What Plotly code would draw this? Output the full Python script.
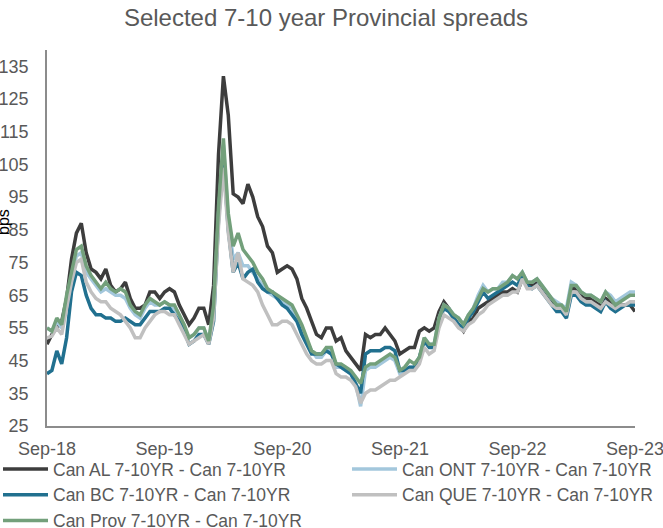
import pandas as pd
import plotly.graph_objects as go

# Semi-monthly observations, Sep 2018 - Sep 2023 (bps)
dates = pd.date_range("2018-09-20", "2023-09-20", periods=121)

can_al = [50, 53, 55, 57, 64, 76, 84, 87, 78, 73, 72, 70, 73, 68, 66, 67, 69, 64, 61, 61,
          62, 66, 66, 64, 66, 67, 66, 62, 59, 56, 58, 61, 61, 56, 68, 108, 132, 120, 96, 95,
          93, 99, 95, 89, 86, 80, 78, 72, 73, 74, 73, 70, 64, 61, 57, 53, 52, 55, 55, 51,
          52, 48, 46, 44, 42, 53, 52, 53, 53, 55, 53, 51, 47, 48, 49, 49, 54, 55, 54, 55,
          60, 63, 61, 58, 56, 54, 57, 58, 61, 62, 63, 64, 65, 66, 66, 67, 66, 70, 68, 68,
          69, 67, 65, 63, 61, 61, 60, 67, 67, 65, 64, 64, 63, 62, 64, 63, 61, 62, 62, 62, 60]

can_ont = [55, 54, 57, 55, 64, 71, 77, 78, 72, 70, 68, 66, 67, 66, 65, 65, 64, 61, 59, 58,
           61, 63, 62, 62, 63, 62, 61, 58, 55, 52, 53, 55, 55, 51, 60, 90, 111, 88, 76, 78,
           74, 74, 72, 70, 68, 66, 65, 64, 63, 62, 61, 58, 55, 51, 48, 46, 46, 48, 48, 43,
           43, 42, 41, 38, 31, 42, 43, 43, 44, 45, 46, 45, 41, 42, 43, 43, 46, 52, 50, 50,
           58, 62, 61, 59, 58, 56, 59, 61, 65, 68, 66, 67, 67, 69, 69, 71, 70, 72, 69, 69,
           70, 68, 66, 64, 63, 62, 61, 69, 68, 66, 65, 65, 64, 63, 66, 65, 63, 64, 65, 66, 66]

can_bc = [41, 42, 48, 44, 52, 66, 72, 71, 65, 61, 59, 59, 58, 58, 57, 57, 58, 57, 56, 56,
          58, 60, 60, 60, 61, 61, 59, 57, 54, 50, 51, 53, 53, 50, 57, 88, 107, 85, 72, 75,
          70, 72, 73, 69, 67, 66, 66, 64, 62, 61, 59, 57, 53, 50, 47, 47, 47, 48, 47, 44,
          43, 42, 41, 38, 35, 47, 48, 48, 48, 49, 49, 48, 42, 42, 43, 43, 46, 51, 49, 49,
          57, 61, 60, 58, 56, 55, 58, 60, 63, 66, 64, 65, 66, 67, 68, 69, 68, 71, 68, 67,
          68, 66, 64, 62, 60, 60, 58, 65, 65, 63, 62, 62, 61, 60, 63, 61, 60, 61, 62, 62, 62]

can_que = [52, 52.5, 55, 53, 61, 69, 75, 76, 69, 66, 64, 63, 63, 61, 60, 59, 57, 55, 52, 52,
           55, 57, 59, 60, 60, 59, 59, 56, 53, 50, 51, 52, 53, 50, 58, 86, 104, 84, 72, 78,
           70, 69, 68, 66, 62, 59, 56, 56, 57, 57, 56, 53, 50, 47, 45, 44, 44, 45, 45, 41,
           40, 40, 39, 37, 32, 35, 36, 36, 37, 38, 39, 39, 40, 41, 42, 42, 44, 49, 47, 48,
           55, 59, 58, 57, 55, 54, 56, 57, 59, 60, 62, 63, 64, 65, 65, 66, 66, 70, 67, 67,
           68, 66, 64, 62, 61, 61, 59, 66, 66, 64, 63, 63, 62, 61, 63, 62, 61, 62, 62, 63, 63]

can_prov = [55, 54, 58, 56, 65, 72, 79, 80, 74, 71, 69, 67, 69, 67, 66, 67, 66, 62, 60, 59,
            62, 64, 63, 62, 63, 62, 62, 59, 56, 52, 53, 55, 55, 51, 62, 92, 113, 90, 80, 84,
            79, 77, 75, 72, 70, 67, 66, 65, 64, 63, 62, 59, 56, 52, 48, 47, 47, 49, 49, 44,
            44, 43, 42, 40, 38, 43, 44, 44, 45, 46, 47, 46, 42, 43, 45, 44, 46, 52, 50, 50,
            58, 62, 61, 59, 58, 56, 59, 61, 64, 67, 66, 67, 67, 68, 69, 71, 70, 72, 69, 69,
            70, 68, 66, 64, 62, 62, 60, 68, 68, 66, 65, 65, 64, 63, 66, 64, 62, 63, 64, 65, 65]

series = [
    ("Can AL 7-10YR - Can 7-10YR", can_al, "#3d3d3d"),
    ("Can ONT 7-10YR - Can 7-10YR", can_ont, "#a3c7dc"),
    ("Can BC 7-10YR - Can 7-10YR", can_bc, "#21708f"),
    ("Can QUE 7-10YR - Can 7-10YR", can_que, "#c0c0c0"),
    ("Can Prov 7-10YR - Can 7-10YR", can_prov, "#73a07b"),
]

tick_dates = ["2018-09-20", "2019-09-20", "2020-09-20", "2021-09-20", "2022-09-20", "2023-09-20"]
tick_labels = ["Sep-18", "Sep-19", "Sep-20", "Sep-21", "Sep-22", "Sep-23"]
y_ticks = list(range(25, 136, 10))

FONT = "Liberation Sans, Arial, sans-serif"
TXT = "#595959"

fig = go.Figure()
for name, vals, color in series:
    fig.add_trace(go.Scatter(x=dates, y=vals, name=name, mode="lines",
                             line=dict(color=color, width=3.5)))

W, H = 800, 528
L, R_EDGE, T, B = 47, 635, 50, 426
PW, PH = R_EDGE - L, B - T

fig.update_layout(
    width=W, height=H,
    margin=dict(l=L, r=W - R_EDGE, t=T, b=H - B, autoexpand=False),
    paper_bgcolor="white", plot_bgcolor="white",
    font=dict(family=FONT, color=TXT, size=18),
    title=dict(text="Selected 7-10 year Provincial spreads", x=326 / W, xanchor="center",
               y=1 - 18 / H, yanchor="middle", font=dict(size=24, color=TXT)),
    showlegend=True,
    legend=dict(orientation="h", x=(696 - L) / PW, xanchor="right",
                y=-(451 - B) / PH, yanchor="top",
                font=dict(size=17.5, color=TXT), itemwidth=45, entrywidth=289,
                tracegroupgap=0, bgcolor="rgba(0,0,0,0)"),
    xaxis=dict(type="date", range=[tick_dates[0], tick_dates[-1]], tickmode="array",
               tickvals=tick_dates, ticktext=tick_labels, showgrid=False, zeroline=False,
               showline=True, linecolor="#8c8c8c", linewidth=1.5, ticks="",
               tickfont=dict(size=18, color=TXT), ticklabelstandoff=6, automargin=False),
    yaxis=dict(range=[25, 140], tickmode="array", tickvals=y_ticks, showgrid=False,
               zeroline=False, showline=True, linecolor="#8c8c8c", linewidth=1.5, ticks="",
               tickfont=dict(size=18, color=TXT), ticklabelstandoff=13, automargin=False),
    annotations=[dict(text="bps", textangle=-90, xref="paper", yref="paper",
                      x=(3 - L) / PW, y=(B - 222) / PH,
                      xanchor="center", yanchor="middle", showarrow=False,
                      font=dict(size=16, color="#000000"))],
)

fig.write_html("out.html", post_script="document.documentElement.style.overflow='hidden';"
                                       "document.body.style.overflow='hidden';"
                                       "document.body.style.margin='0';")
